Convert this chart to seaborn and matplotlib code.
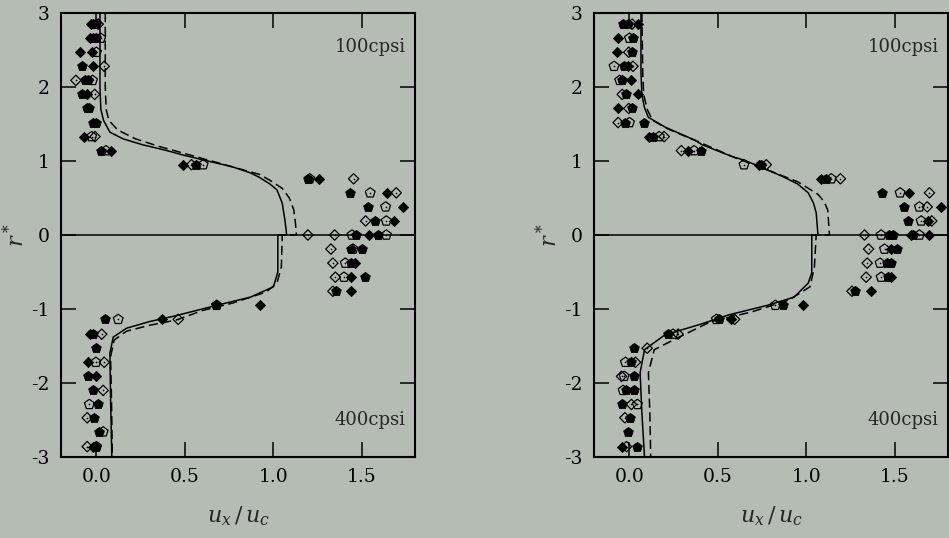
import numpy as np
import pandas as pd
import matplotlib
matplotlib.use("Agg")
import matplotlib.pyplot as plt
import seaborn as sns

# -----------------------------
# Data
# -----------------------------
# left panel, filled diamonds
left_fd_x = [-0.033, -0.037, -0.093, -0.027, -0.018, -0.056, -0.07, 0.08, 0.49, 1.257, 1.641, 1.731,
             1.679, 1.538, 1.459, 1.436, 1.44, 0.927, 0.368, -0.037, -0.046, 0.0, -0.018]
left_fd_r = [2.85, 2.66, 2.47, 2.47, 2.28, 1.90, 1.33, 1.14, 0.95, 0.76, 0.57, 0.38,
             0.19, 0.0, -0.38, -0.57, -0.76, -0.95, -1.14, -1.34, -1.72, -1.91, -2.86]
# left panel, filled pentagons
left_fp_x = [-0.018, 0.0, -0.018, 0.0, -0.084, -0.065, -0.045, -0.084, -0.056, -0.04, -0.018, 0.0,
             0.026, 0.565, 1.195, 1.434, 1.532, 1.573, 1.468, 1.59, 1.44, 1.5, 1.436, 1.515,
             1.355, 0.678, 0.048, -0.02, 0.0, -0.046, -0.018, 0.01, -0.014, 0.016, -0.005]
left_fp_r = [2.85, 2.85, 2.66, 2.66, 2.28, 2.09, 2.09, 1.90, 1.71, 1.71, 1.52, 1.52,
             1.14, 0.95, 0.76, 0.57, 0.38, 0.19, 0.0, 0.0, -0.19, -0.19, -0.38, -0.57,
             -0.76, -0.95, -1.14, -1.34, -1.53, -1.91, -2.10, -2.29, -2.47, -2.66, -2.86]
# left panel, open diamonds
left_od_x = [0.01, 0.044, -0.116, -0.01, -0.008, 0.537, 1.453, 1.694, 1.521, 1.195, 1.346, 1.325,
             1.336, 1.35, 1.336, 0.462, 0.03, 0.044, 0.038, -0.052, -0.052]
left_od_r = [2.85, 2.28, 2.09, 1.90, 1.33, 0.95, 0.76, 0.57, 0.19, 0.0, 0.0, -0.19,
             -0.38, -0.57, -0.76, -1.14, -1.34, -1.72, -2.10, -2.47, -2.86]
# left panel, open pentagons
left_op_x = [0.024, 0.0, -0.022, -0.027, 0.054, 0.603, 1.205, 1.547, 1.634, 1.638, 1.444, 1.638,
             1.45, 1.406, 1.399, 0.68, 0.123, -0.003, -0.04, 0.038, 0.0]
left_op_r = [2.66, 2.47, 2.09, 1.33, 1.14, 0.95, 0.76, 0.57, 0.38, 0.19, 0.0, 0.0,
             -0.19, -0.38, -0.57, -0.95, -1.14, -1.72, -2.29, -2.66, -2.86]

# right panel, filled diamonds
right_fd_x = [0.049, -0.064, -0.073, -0.007, 0.008, 0.049, -0.064, 0.109, 0.331, 0.73, 1.08, 1.582,
              1.761, 1.686, 1.591, 1.695, 1.479, 1.479, 1.366, 0.98, 0.576, -0.045]
right_fd_r = [2.85, 2.66, 2.47, 2.28, 2.09, 1.90, 1.71, 1.33, 1.14, 0.95, 0.76, 0.57,
              0.38, 0.19, 0.0, 0.0, -0.19, -0.57, -0.76, -0.95, -1.14, -2.86]
# right panel, filled pentagons
right_fp_x = [-0.036, -0.01, 0.02, 0.015, -0.03, -0.041, -0.017, 0.015, -0.026, 0.083, 0.134, 0.406,
              0.745, 1.112, 1.428, 1.55, 1.576, 1.469, 1.488, 1.6, 1.512, 1.456, 1.475, 1.46,
              1.275, 0.867, 0.504, 0.218, 0.026, 0.008, 0.026, -0.02, 0.026, -0.041, 0.002,
              -0.011, 0.04]
right_fp_r = [2.85, 2.85, 2.66, 2.47, 2.28, 2.09, 1.90, 1.71, 1.52, 1.52, 1.33, 1.14,
              0.95, 0.76, 0.57, 0.38, 0.19, 0.0, 0.0, 0.0, -0.19, -0.38, -0.38, -0.57,
              -0.76, -0.95, -1.14, -1.34, -1.53, -1.72, -1.91, -2.10, -2.10, -2.29, -2.47,
              -2.66, -2.86]
# right panel, open diamonds
right_od_x = [0.015, -0.004, 0.02, -0.041, -0.004, -0.064, 0.196, 0.293, 0.773, 1.192, 1.695, 1.682,
              1.708, 1.328, 1.351, 1.343, 1.337, 1.257, 0.594, 0.275, 0.1, 0.034, -0.045, 0.011,
              -0.026, -0.017]
right_od_r = [2.85, 2.47, 2.28, 1.90, 1.71, 1.52, 1.33, 1.14, 0.95, 0.76, 0.57, 0.38,
              0.19, 0.0, -0.19, -0.38, -0.57, -0.76, -1.14, -1.34, -1.53, -1.72, -1.91, -2.29,
              -2.47, -2.86]
# right panel, open pentagons
right_op_x = [0.0, -0.087, -0.055, 0.0, 0.168, 0.365, 0.647, 1.14, 1.529, 1.638, 1.648, 1.422,
              1.638, 1.441, 1.416, 1.422, 0.824, 0.491, 0.246, -0.023, -0.03, -0.036, 0.045]
right_op_r = [2.66, 2.28, 2.09, 1.52, 1.33, 1.14, 0.95, 0.76, 0.57, 0.38, 0.19, 0.0,
              0.0, -0.19, -0.38, -0.57, -0.95, -1.14, -1.34, -1.72, -1.91, -2.10, -2.29]

# model profiles (solid / dashed), upper half then lower half
left_solid_x = [0.02, 0.02, 0.025, 0.04, 0.076, 0.15, 0.26, 0.40, 0.49, 0.63, 0.77, 0.87, 0.92,
                0.98, 1.02, 1.05, 1.065, 1.075,
                1.025, 1.025, 1.0, 0.87, 0.68, 0.45, 0.30, 0.17, 0.095, 0.076, 0.08, 0.087]
left_solid_r = [3.0, 2.0, 1.7, 1.55, 1.39, 1.3, 1.22, 1.14, 1.08, 1.0, 0.92, 0.84, 0.78,
                0.69, 0.61, 0.43, 0.2, 0.0,
                0.0, -0.5, -0.7, -0.84, -0.95, -1.09, -1.17, -1.26, -1.38, -1.6, -2.2, -3.0]
left_dash_x = [0.05, 0.05, 0.055, 0.07, 0.12, 0.22, 0.35, 0.5, 0.65, 0.8, 0.92, 0.98, 1.05,
               1.09, 1.115, 1.125, 1.13,
               1.05, 1.045, 1.02, 0.96, 0.77, 0.6, 0.45, 0.3, 0.17, 0.1, 0.08, 0.085, 0.09]
left_dash_r = [3.0, 2.0, 1.7, 1.55, 1.42, 1.3, 1.2, 1.1, 1.0, 0.9, 0.82, 0.74, 0.63,
               0.5, 0.34, 0.15, 0.0,
               0.0, -0.43, -0.65, -0.77, -0.92, -1.02, -1.15, -1.22, -1.3, -1.42, -1.65, -2.2, -3.0]
right_solid_x = [0.065, 0.065, 0.07, 0.085, 0.107, 0.2, 0.37, 0.41, 0.58, 0.65, 0.78, 0.875, 0.95,
                 1.01, 1.04, 1.055, 1.065,
                 1.03, 1.03, 1.01, 0.93, 0.78, 0.56, 0.41, 0.2, 0.085, 0.06, 0.07, 0.085]
right_solid_r = [3.0, 2.2, 1.9, 1.72, 1.59, 1.46, 1.28, 1.22, 1.06, 1.01, 0.88, 0.78, 0.69,
                 0.57, 0.43, 0.3, 0.0,
                 0.0, -0.51, -0.65, -0.84, -0.95, -1.08, -1.2, -1.35, -1.55, -1.86, -2.4, -3.0]
right_dash_x = [0.07, 0.075, 0.08, 0.1, 0.13, 0.22, 0.38, 0.6, 0.8, 0.95, 1.065, 1.1, 1.12, 1.13,
                1.055, 1.045, 1.02, 0.9, 0.69, 0.46, 0.28, 0.14, 0.107, 0.115, 0.12]
right_dash_r = [3.0, 2.2, 1.9, 1.7, 1.55, 1.43, 1.27, 1.04, 0.86, 0.72, 0.55, 0.45, 0.34, 0.0,
                0.0, -0.43, -0.7, -0.88, -1.04, -1.17, -1.38, -1.55, -1.86, -2.4, -3.0]

x_ticks = [0.0, 0.5, 1.0, 1.5]
x_ticklabels = ["0.0", "0.5", "1.0", "1.5"]
y_ticks = [-3, -2, -1, 0, 1, 2, 3]
y_ticklabels = ["-3", "-2", "-1", "0", "1", "2", "3"]

# -----------------------------
# Style
# -----------------------------
bg = "#b4bcb4"
sns.set_style("ticks")
plt.rcParams["font.family"] = ["DejaVu Serif"]
plt.rcParams["mathtext.fontset"] = "dejavuserif"
plt.rcParams["axes.unicode_minus"] = False

fig = plt.figure(figsize=(9.49, 5.38), dpi=100, facecolor=bg)
ax_l = fig.add_axes([0.0643, 0.1506, 0.373, 0.8252])
ax_r = fig.add_axes([0.626, 0.1506, 0.373, 0.8252])


def draw_panel(ax, fd, fp, od, op, solid, dash):
    ax.set_facecolor(bg)
    ax.axhline(0, color="black", lw=1.1, zorder=1)
    sns.lineplot(x=solid[0], y=solid[1], ax=ax, sort=False, estimator=None,
                 color="black", lw=1.1, zorder=2)
    sns.lineplot(x=dash[0], y=dash[1], ax=ax, sort=False, estimator=None,
                 color="black", lw=1.1, zorder=2).lines[-1].set_dashes((6, 3))
    sns.scatterplot(x=fd[0], y=fd[1], ax=ax, marker="D", s=28, color="black",
                    edgecolor="black", linewidth=0.5, zorder=3)
    sns.scatterplot(x=fp[0], y=fp[1], ax=ax, marker="p", s=55, color="black",
                    edgecolor="black", linewidth=0.5, zorder=3)
    for xs, rs, m, s in [(od[0], od[1], "D", 28), (op[0], op[1], "p", 55)]:
        sns.scatterplot(x=xs, y=rs, ax=ax, marker=m, s=s, facecolor="none",
                        edgecolor="black", linewidth=0.9, zorder=4)
        sns.scatterplot(x=xs, y=rs, ax=ax, marker="o", s=1.5, color="black",
                        linewidth=0, zorder=4)

    ax.set_xlim(-0.2, 1.8)
    ax.set_ylim(-3, 3)
    ax.set_xticks(x_ticks, x_ticklabels)
    ax.set_yticks(y_ticks, y_ticklabels)
    ax.tick_params(direction="in", length=11, width=1.1, top=True, right=True,
                   labelsize=13.5, colors="black", pad=8)
    for sp in ax.spines.values():
        sp.set_linewidth(1.5)
        sp.set_color("black")
    ax.set_xlabel(r"$u_x\,/\,u_c$", fontsize=16, labelpad=13)
    ax.set_ylabel(r"$r^*$", fontsize=16, labelpad=2)
    ax.text(0.873, 0.923, "100cpsi", transform=ax.transAxes, ha="center", va="center", fontsize=13)
    ax.text(0.873, 0.083, "400cpsi", transform=ax.transAxes, ha="center", va="center", fontsize=13)


draw_panel(ax_l, (left_fd_x, left_fd_r), (left_fp_x, left_fp_r), (left_od_x, left_od_r),
           (left_op_x, left_op_r), (left_solid_x, left_solid_r), (left_dash_x, left_dash_r))
draw_panel(ax_r, (right_fd_x, right_fd_r), (right_fp_x, right_fp_r), (right_od_x, right_od_r),
           (right_op_x, right_op_r), (right_solid_x, right_solid_r), (right_dash_x, right_dash_r))

fig.savefig("out.png", dpi=100, facecolor=bg)
